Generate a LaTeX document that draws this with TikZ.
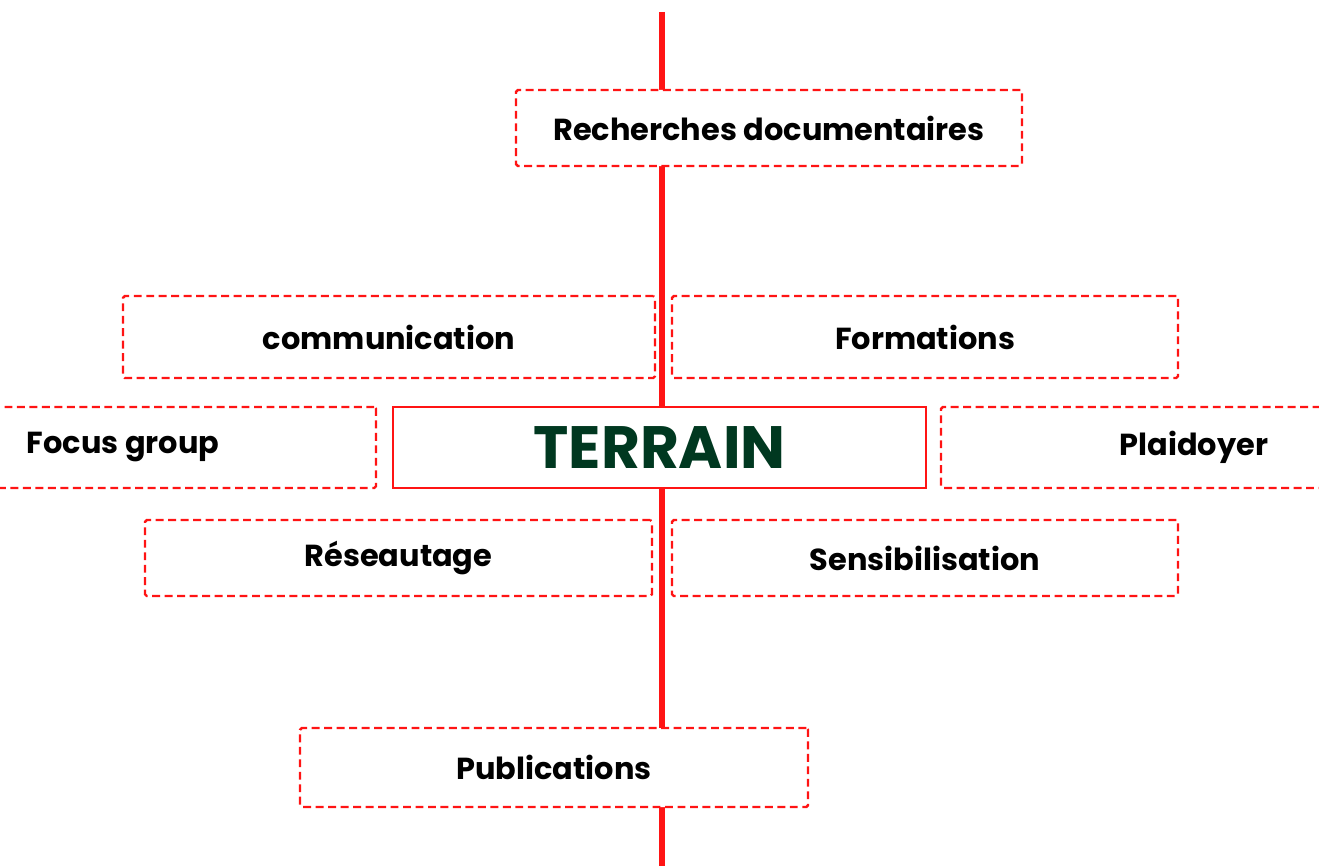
\documentclass[tikz,border=0pt]{standalone}
\usepackage{fontspec}
\setmainfont{Poppins}
\definecolor{boxred}{RGB}{255,20,20}
\definecolor{terraingreen}{RGB}{0,56,32}
\tikzset{
  dashbox/.style={draw=boxred, line width=1.4pt, dash pattern=on 4.5pt off 2.6pt, fill=white,
    rounded corners=1pt, minimum width=10.12cm, minimum height=1.55cm, inner sep=0pt,
    font=\fontsize{17.3}{19}\selectfont\bfseries},
  mainbox/.style={draw=boxred, line width=1.4pt, fill=white, minimum width=10.66cm,
    minimum height=1.62cm, inner sep=0pt, text=terraingreen,
    font=\fontsize{34}{38}\selectfont\bfseries}
}
\begin{document}
\begin{tikzpicture}
	\useasboundingbox (0,0) rectangle (26.38,-17.32);
	\clip (0,0) rectangle (26.38,-17.32);
	% axe vertical
	\coordinate (haut) at (13.24,-0.24);
	\coordinate (bas) at (13.24,-17.5);
	\draw[boxred, line width=3.4pt] (haut) -- (bas);
	% boites
	\node[dashbox, minimum height=1.52cm] (recherches) at (15.38,-2.56) {Recherches documentaires};
	\node[dashbox, minimum width=10.64cm, minimum height=1.64cm] (communication) at (7.78,-6.74) {communication};
	\node[dashbox, minimum height=1.64cm] (formations) at (18.5,-6.74) {Formations};
	\node[dashbox, minimum height=1.62cm] (focus) at (2.46,-8.95) {Focus group};
	\node[mainbox] (terrain) at (13.19,-8.95) {TERRAIN};
	\node[dashbox, minimum height=1.62cm] (plaidoyer) at (23.88,-8.95) {Plaidoyer};
	\node[dashbox, minimum width=10.14cm, minimum height=1.52cm] (reseautage) at (7.97,-11.16) {Réseautage};
	\node[dashbox, minimum height=1.52cm] (sensibilisation) at (18.5,-11.16) {Sensibilisation};
	\node[dashbox, minimum width=10.16cm, minimum height=1.58cm] (publications) at (11.08,-15.35) {Publications};
\end{tikzpicture}
\end{document}
